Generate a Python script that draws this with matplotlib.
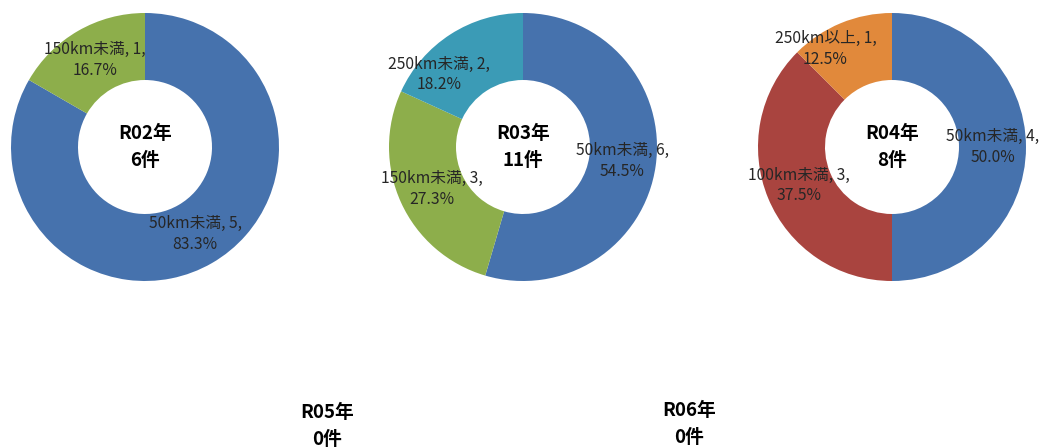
import numpy as np
import matplotlib.pyplot as plt

plt.rcParams['font.family'] = ['Noto Sans CJK JP', 'DejaVu Sans']

# data per year (clockwise from 12 o'clock)
years = ["R02年", "R03年", "R04年", "R05年", "R06年"]
r02_labels = ["50km未満", "150km未満"]
r02_values = [5, 1]
r03_labels = ["50km未満", "150km未満", "250km未満"]
r03_values = [6, 3, 2]
r04_labels = ["50km未満", "100km未満", "250km以上"]
r04_values = [4, 3, 1]
r05_values = []
r06_values = []

cat_colors = {
    "50km未満": "#4672ad",
    "100km未満": "#a9443f",
    "150km未満": "#8dae4b",
    "250km未満": "#3b9bb6",
    "250km以上": "#e1893b",
}

W, H = 1040, 448
fig = plt.figure(figsize=(W / 100, H / 100), dpi=100)

R = 134  # donut radius in px


def make_ax(cx, cy):
    return fig.add_axes([(cx - R) / W, 1 - (cy + R) / H, 2 * R / W, 2 * R / H])


def donut(ax, year, labels, values, label_shift=None):
    total = sum(values)
    if total > 0:
        wedges, _ = ax.pie(values, radius=1, startangle=90, counterclock=False,
                           colors=[cat_colors[l] for l in labels],
                           wedgeprops=dict(width=0.5, linewidth=0))
        for i, (w, lab, v) in enumerate(zip(wedges, labels, values)):
            mid = np.deg2rad((w.theta1 + w.theta2) / 2)
            x, y = 0.75 * np.cos(mid), 0.75 * np.sin(mid)
            if label_shift and i in label_shift:
                x += label_shift[i][0]
                y += label_shift[i][1]
            ax.text(x, y, f"{lab}, {v},\n{v / total * 100:.1f}%",
                    ha='center', va='center', fontsize=11.3, color='#262626',
                    linespacing=1.3)
    ax.text(0, 0, f"{year}\n{total}件", ha='center', va='center',
            fontsize=13.5, fontweight='bold', color='black', linespacing=1.55)
    ax.set_xlim(-1, 1)
    ax.set_ylim(-1, 1)
    ax.set_aspect('equal')
    ax.axis('off')


donut(make_ax(145, 147), years[0], r02_labels, r02_values)
donut(make_ax(523, 147), years[1], r03_labels, r03_values,
      label_shift={2: (-0.22, -0.09)})
donut(make_ax(892, 147), years[2], r04_labels, r04_values,
      label_shift={2: (-0.21, 0.04)})
donut(make_ax(327, 426), years[3], [], r05_values)
donut(make_ax(689, 424), years[4], [], r06_values)

fig.savefig("out.png", dpi=100, facecolor='white')
